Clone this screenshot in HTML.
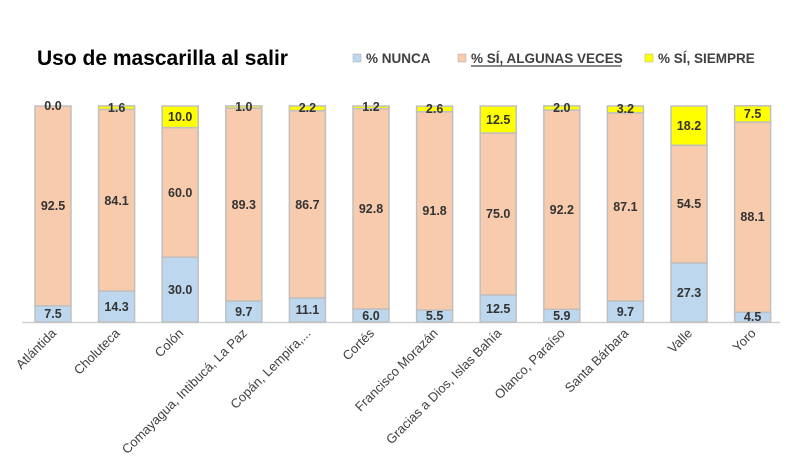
<!DOCTYPE html>
<html><head><meta charset="utf-8"><style>
body{margin:0;background:#fff}
svg{display:block;font-family:"Liberation Sans",Arial,sans-serif}
.d{font-size:12.5px;font-weight:bold;fill:#333;text-anchor:middle}
.c{font-size:13px;fill:#404040;text-anchor:end}
</style></head><body>
<svg width="800" height="463" viewBox="0 0 800 463">
<rect width="800" height="463" fill="#fff"/>
<text x="37" y="65" font-size="21" font-weight="bold" fill="#000">Uso de mascarilla al salir</text>
<g font-size="13.5" font-weight="bold" fill="#404040">
<rect x="353" y="54" width="8" height="8" fill="#bdd7ee" stroke="#aaa" stroke-width="0.5"/><text x="366" y="63">% NUNCA</text>
<rect x="458" y="54" width="8" height="8" fill="#f8cbad" stroke="#aaa" stroke-width="0.5"/><text x="471" y="63">% SÍ, ALGUNAS VECES</text>
<line x1="471" y1="66" x2="621" y2="66" stroke="#404040" stroke-width="1.2"/>
<rect x="645" y="54" width="8" height="8" fill="#ffff00" stroke="#aaa" stroke-width="0.5"/><text x="658" y="63">% SÍ, SIEMPRE</text>
</g>
<line x1="22" y1="322.5" x2="780" y2="322.5" stroke="#d0d0d0" stroke-width="1.5"/>
<g stroke="#bfbfbf" stroke-width="1.5">
<rect x="35" y="305.8" width="36" height="16.2" fill="#bdd7ee"/><rect x="35" y="106" width="36" height="199.8" fill="#f8cbad"/>
<rect x="98.6" y="291.1" width="36" height="30.9" fill="#bdd7ee"/><rect x="98.6" y="109.4" width="36" height="181.7" fill="#f8cbad"/><rect x="98.6" y="105.9" width="36" height="3.5" fill="#ffff00"/>
<rect x="162.2" y="257.2" width="36" height="64.8" fill="#bdd7ee"/><rect x="162.2" y="127.6" width="36" height="129.6" fill="#f8cbad"/><rect x="162.2" y="106" width="36" height="21.6" fill="#ffff00"/>
<rect x="225.8" y="301" width="36" height="21" fill="#bdd7ee"/><rect x="225.8" y="108.1" width="36" height="192.9" fill="#f8cbad"/><rect x="225.8" y="105.9" width="36" height="2.2" fill="#ffff00"/>
<rect x="289.4" y="298" width="36" height="24" fill="#bdd7ee"/><rect x="289.4" y="110.7" width="36" height="187.3" fill="#f8cbad"/><rect x="289.4" y="105.9" width="36" height="4.8" fill="#ffff00"/>
<rect x="353" y="309" width="36" height="13" fill="#bdd7ee"/><rect x="353" y="108.6" width="36" height="200.4" fill="#f8cbad"/><rect x="353" y="106" width="36" height="2.6" fill="#ffff00"/>
<rect x="416.6" y="310.1" width="36" height="11.9" fill="#bdd7ee"/><rect x="416.6" y="111.8" width="36" height="198.3" fill="#f8cbad"/><rect x="416.6" y="106.2" width="36" height="5.6" fill="#ffff00"/>
<rect x="480.2" y="295" width="36" height="27" fill="#bdd7ee"/><rect x="480.2" y="133" width="36" height="162" fill="#f8cbad"/><rect x="480.2" y="106" width="36" height="27" fill="#ffff00"/>
<rect x="543.8" y="309.3" width="36" height="12.7" fill="#bdd7ee"/><rect x="543.8" y="110.1" width="36" height="199.2" fill="#f8cbad"/><rect x="543.8" y="105.8" width="36" height="4.3" fill="#ffff00"/>
<rect x="607.4" y="301" width="36" height="21" fill="#bdd7ee"/><rect x="607.4" y="112.9" width="36" height="188.1" fill="#f8cbad"/><rect x="607.4" y="106" width="36" height="6.9" fill="#ffff00"/>
<rect x="671" y="263" width="36" height="59" fill="#bdd7ee"/><rect x="671" y="145.3" width="36" height="117.7" fill="#f8cbad"/><rect x="671" y="106" width="36" height="39.3" fill="#ffff00"/>
<rect x="734.6" y="312.3" width="36" height="9.7" fill="#bdd7ee"/><rect x="734.6" y="122" width="36" height="190.3" fill="#f8cbad"/><rect x="734.6" y="105.8" width="36" height="16.2" fill="#ffff00"/>
</g>
<g class="d">
<text class="d" x="53" y="318">7.5</text><text class="d" x="53" y="210">92.5</text><text class="d" x="53" y="110">0.0</text>
<text class="d" x="116.6" y="311">14.3</text><text class="d" x="116.6" y="205">84.1</text><text class="d" x="116.6" y="112">1.6</text>
<text class="d" x="180.2" y="294">30.0</text><text class="d" x="180.2" y="197">60.0</text><text class="d" x="180.2" y="121">10.0</text>
<text class="d" x="243.8" y="316">9.7</text><text class="d" x="243.8" y="209">89.3</text><text class="d" x="243.8" y="111">1.0</text>
<text class="d" x="307.4" y="314">11.1</text><text class="d" x="307.4" y="209">86.7</text><text class="d" x="307.4" y="112">2.2</text>
<text class="d" x="371" y="320">6.0</text><text class="d" x="371" y="213">92.8</text><text class="d" x="371" y="111">1.2</text>
<text class="d" x="434.6" y="320">5.5</text><text class="d" x="434.6" y="215">91.8</text><text class="d" x="434.6" y="113">2.6</text>
<text class="d" x="498.2" y="313">12.5</text><text class="d" x="498.2" y="218">75.0</text><text class="d" x="498.2" y="124">12.5</text>
<text class="d" x="561.8" y="320">5.9</text><text class="d" x="561.8" y="214">92.2</text><text class="d" x="561.8" y="112">2.0</text>
<text class="d" x="625.4" y="316">9.7</text><text class="d" x="625.4" y="211">87.1</text><text class="d" x="625.4" y="113">3.2</text>
<text class="d" x="689" y="297">27.3</text><text class="d" x="689" y="208">54.5</text><text class="d" x="689" y="130">18.2</text>
<text class="d" x="752.6" y="321">4.5</text><text class="d" x="752.6" y="221">88.1</text><text class="d" x="752.6" y="118">7.5</text>
</g>
<g>
<text class="c" transform="translate(57,334) rotate(-45)">Atlántida</text>
<text class="c" transform="translate(120.6,334) rotate(-45)">Choluteca</text>
<text class="c" transform="translate(184.2,334) rotate(-45)">Colón</text>
<text class="c" transform="translate(247.8,334) rotate(-45)">Comayagua, Intibucá, La Paz</text>
<text class="c" transform="translate(311.4,334) rotate(-45)">Copán, Lempira,...</text>
<text class="c" transform="translate(375,334) rotate(-45)">Cortés</text>
<text class="c" transform="translate(438.6,334) rotate(-45)">Francisco Morazán</text>
<text class="c" transform="translate(502.2,334) rotate(-45)">Gracias a Dios, Islas Bahía</text>
<text class="c" transform="translate(565.8,334) rotate(-45)">Olanco, Paraíso</text>
<text class="c" transform="translate(629.4,334) rotate(-45)">Santa Bárbara</text>
<text class="c" transform="translate(693,334) rotate(-45)">Valle</text>
<text class="c" transform="translate(756.6,334) rotate(-45)">Yoro</text>
</g>
</svg>
</body></html>
